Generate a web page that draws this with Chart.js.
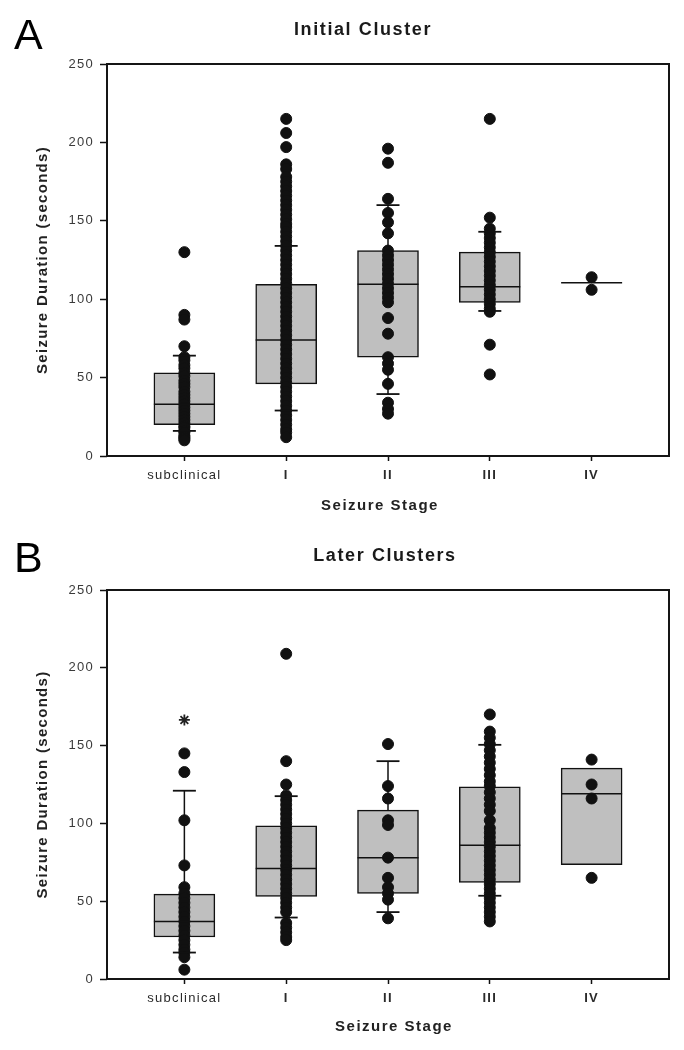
<!DOCTYPE html>
<html>
<head>
<meta charset="utf-8">
<script src="https://cdn.jsdelivr.net/npm/chart.js@4.4.1/dist/chart.umd.min.js"></script>
<style>
  html, body { margin: 0; padding: 0; background: #fff; }
  canvas { display: block; }
</style>
</head>
<body>
<canvas id="panelA" width="684" height="525"></canvas>
<canvas id="panelB" width="684" height="525"></canvas>
<script>
/* =============================================
   Seizure duration by stage — two box panels
   ============================================= */

const STAGES = ["subclinical", "I", "II", "III", "IV"];
const Y_TICKS = [0, 50, 100, 150, 200, 250];

// Panel A — initial cluster (boxes: 25th / median / 75th, caps: 10th / 90th)
const A_Q1      = [20, 46, 63, 98, null];
const A_MEDIAN  = [33, 74, 109.5, 108, 110.5];
const A_Q3      = [53, 109.5, 131, 130, null];
const A_CAP_LO  = [16, 29, 39.5, 92.5, null];
const A_CAP_HI  = [64, 134, 160, 143, null];
const A_SUB  = [130, 90, 87, 70, 63, 61, 58, 56, 53, 51, 48, 46, 44, 41, 39, 37, 35, 33, 31, 29, 27, 25, 23, 21, 19, 18, 16, 15, 13, 12, 11, 10];
const A_I    = [215, 206, 197, 186, 183, 178, 175, 172, 169, 166, 163, 160, 157, 154, 151, 148, 146, 143, 140, 137, 134, 131, 128, 125, 122, 119, 116, 113, 110, 107, 104, 101, 98, 95, 92, 89, 86, 83, 80, 77, 74, 71, 68, 65, 62, 59, 56, 53, 50, 47, 44, 41, 38, 35, 32, 29, 26, 23, 20, 17, 15, 12];
const A_II   = [196, 187, 164, 155, 149, 142, 131, 128, 125, 122, 119, 116, 113, 110, 107, 104, 101, 98, 88, 78, 63, 59, 55, 46, 34, 30, 27];
const A_III  = [215, 152, 145, 142, 139, 136, 133, 130, 127, 124, 121, 118, 115, 112, 109, 106, 103, 100, 97, 94, 92, 71, 52];
const A_IV   = [114, 106];

// Panel B — later clusters
const B_Q1      = [27, 53, 55, 62, 73.5];
const B_MEDIAN  = [37, 71, 78, 86, 119];
const B_Q3      = [54.5, 98.5, 108.5, 123.5, 135.5];
const B_CAP_LO  = [17, 39.5, 43, 53.5, null];
const B_CAP_HI  = [121, 117.5, 140, 150.5, null];
const B_STAR    = [166.5, null, null, null, null];
const B_SUB  = [145, 133, 102, 73, 59, 55, 52, 49, 46, 43, 40, 37, 34, 31, 28, 25, 22, 19, 17, 14, 6];
const B_I    = [209, 140, 125, 118, 115, 112, 109, 106, 103, 100, 97, 94, 91, 88, 85, 82, 79, 76, 73, 70, 67, 64, 61, 58, 55, 52, 49, 46, 43, 36, 33, 30, 27, 25];
const B_II   = [151, 124, 116, 102, 99, 78, 65, 59, 55, 51, 39];
const B_III  = [170, 159, 155, 151, 147, 143, 139, 135, 131, 127, 124, 120, 116, 112, 108, 102, 97, 94, 91, 88, 85, 82, 79, 76, 73, 70, 67, 64, 61, 58, 55, 52, 49, 46, 43, 40, 37];
const B_IV   = [141, 125, 116, 65];

const FONT = '"Liberation Sans", Arial, Helvetica, sans-serif';
const W = 684, H = 525;

// frame around plot + panel letter + heading + x axis caption
const panelDecor = {
  id: "panelDecor",
  beforeDraw(chart) {
    chart.ctx.letterSpacing = "1.3px";
  },
  afterDraw(chart, args, opts) {
    const { ctx, chartArea: a } = chart;
    ctx.save();
    ctx.strokeStyle = "#151515";
    ctx.lineWidth = 2;
    ctx.strokeRect(a.left, a.top, a.right - a.left, a.bottom - a.top);

    ctx.fillStyle = "#000";
    ctx.letterSpacing = "0px";
    ctx.textAlign = "left";
    ctx.textBaseline = "alphabetic";
    ctx.font = `43px ${FONT}`;
    ctx.fillText(opts.letter, 14, opts.letterBase);

    ctx.fillStyle = "#1a1a1a";
    ctx.letterSpacing = "1.6px";
    ctx.textAlign = "center";
    ctx.textBaseline = "middle";
    ctx.font = `bold 18px ${FONT}`;
    ctx.fillText(opts.title, opts.titleX, opts.titleY);

    ctx.fillStyle = "#222";
    ctx.letterSpacing = "1.5px";
    ctx.font = `bold 15px ${FONT}`;
    ctx.fillText("Seizure Stage", opts.xTitleX, opts.xTitleY);
    ctx.restore();
  }
};

function boxData(q1, q3) {
  const out = [];
  q1.forEach((lo, i) => { if (lo != null && q3[i] != null) out.push({ x: i, y: [lo, q3[i]] }); });
  return out;
}
function levelData(vals) {
  const out = [];
  vals.forEach((v, i) => { if (v != null) out.push({ x: i, y: v }); });
  return out;
}
function whiskerData(q1, q3, lo, hi) {
  const out = [];
  STAGES.forEach((_, i) => {
    if (hi[i] != null && q3[i] != null) out.push({ x: i, y: q3[i] }, { x: i, y: hi[i] }, { x: i, y: null });
    if (lo[i] != null && q1[i] != null) out.push({ x: i, y: q1[i] }, { x: i, y: lo[i] }, { x: i, y: null });
  });
  return out;
}
function pointData(groups) {
  const out = [];
  groups.forEach((vals, i) => vals.forEach(v => out.push({ x: i, y: v })));
  return out;
}

function renderPanel(id, p) {
  const datasets = [
    {
      type: "bar", data: boxData(p.q1, p.q3), order: 4,
      backgroundColor: "#bfbfbf", borderColor: "#111", borderWidth: 1.5,
      borderSkipped: false, barThickness: 61
    },
    {
      type: "scatter", data: whiskerData(p.q1, p.q3, p.capLo, p.capHi), order: 3,
      showLine: true, spanGaps: false, borderColor: "#111", borderWidth: 1.5, pointRadius: 0
    },
    {
      type: "scatter", data: pointData(p.points), order: 2,
      pointRadius: 5.5, pointBorderWidth: 1, backgroundColor: "#111", borderColor: "#111"
    },
    {
      type: "scatter", data: levelData(p.median), order: 1,
      pointStyle: "line", pointRadius: 30.5, borderColor: "#111", borderWidth: 1.5
    },
    {
      type: "scatter", data: levelData(p.capLo).concat(levelData(p.capHi)), order: 0,
      pointStyle: "line", pointRadius: 11.5, borderColor: "#111", borderWidth: 1.8
    }
  ];
  if (p.star) {
    datasets.push({
      type: "scatter", data: levelData(p.star), order: 0,
      pointStyle: "star", pointRadius: 5.5, borderColor: "#222", borderWidth: 1.8
    });
  }

  new Chart(document.getElementById(id), {
    type: "scatter",
    data: { datasets },
    plugins: [panelDecor],
    options: {
      responsive: false,
      animation: false,
      events: [],
      layout: { autoPadding: false, padding: { top: p.top, left: 0, right: W - 669, bottom: 0 } },
      plugins: {
        legend: { display: false },
        tooltip: { enabled: false },
        title: { display: false },
        panelDecor: {
          letter: p.letter, letterBase: p.letterBase, title: p.title, titleX: p.titleX, titleY: p.titleY,
          xTitleX: p.xTitleX, xTitleY: p.xTitleY
        }
      },
      scales: {
        x: {
          type: "linear", min: -0.76, max: 4.76, offset: false,
          afterFit: s => { s.height = H - p.bottom; s.paddingLeft = 0; s.paddingRight = 0; },
          afterBuildTicks: s => { s.ticks = STAGES.map((_, i) => ({ value: i })); },
          border: { display: false },
          grid: { drawOnChartArea: false, drawTicks: true, offset: false, tickLength: 5, tickWidth: 1.5, tickColor: "#111" },
          ticks: {
            padding: 7, color: "#2a2a2a", maxRotation: 0, autoSkip: false,
            font: ctx => ({ family: FONT, size: 13, weight: ctx.index === 0 ? "normal" : "bold" }),
            callback: v => STAGES[Math.round(v)]
          },
          title: { display: false }
        },
        y: {
          min: 0, max: 250,
          afterFit: s => { s.width = 107; s.paddingTop = 0; s.paddingBottom = 0; },
          afterBuildTicks: s => { s.ticks = Y_TICKS.map(v => ({ value: v })); },
          border: { display: false },
          grid: { drawOnChartArea: false, drawTicks: true, tickLength: 7, tickWidth: 1.5, tickColor: "#111" },
          ticks: { padding: 6, color: "#3a3a3a", font: { family: FONT, size: 13 } },
          title: {
            display: true, text: "Seizure Duration (seconds)", color: "#222",
            font: { family: FONT, size: 15, weight: "bold" },
            padding: { top: 34, bottom: 0 }
          }
        }
      }
    }
  });
}

renderPanel("panelA", {
  letter: "A", letterBase: 49, title: "Initial Cluster", titleX: 363, titleY: 30,
  top: 64, bottom: 456, xTitleX: 380, xTitleY: 506,
  q1: A_Q1, q3: A_Q3, median: A_MEDIAN, capLo: A_CAP_LO, capHi: A_CAP_HI,
  points: [A_SUB, A_I, A_II, A_III, A_IV]
});

renderPanel("panelB", {
  letter: "B", letterBase: 47, title: "Later Clusters", titleX: 385, titleY: 31,
  top: 65, bottom: 454, xTitleX: 394, xTitleY: 502,
  q1: B_Q1, q3: B_Q3, median: B_MEDIAN, capLo: B_CAP_LO, capHi: B_CAP_HI, star: B_STAR,
  points: [B_SUB, B_I, B_II, B_III, B_IV]
});
</script>
</body>
</html>
